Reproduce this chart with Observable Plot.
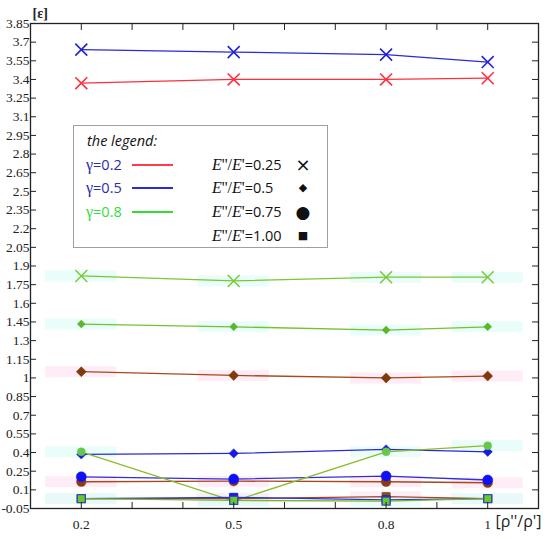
<!DOCTYPE html>
<html><head><meta charset="utf-8">
<script src="https://cdn.jsdelivr.net/npm/d3@7"></script>
<script src="https://cdn.jsdelivr.net/npm/@observablehq/plot@0.6"></script>
<style>
body{margin:0;background:#fff}
#wrap{position:relative;width:550px;height:539px}
#wrap svg g[aria-label$="tick label"]{font-family:"Liberation Serif",serif !important;font-size:13.5px !important}
#wrap svg g[aria-label$="tick label"] text{font-family:"Liberation Serif",serif !important;font-size:13.5px !important;fill:#222}
.leg{position:absolute;left:73px;top:125px;width:253px;height:121px;border:1px solid #a0a0a0;background:#fff;font-family:"Open Sans",sans-serif;font-size:14.5px;line-height:20px}
.leg div{position:absolute;white-space:nowrap}
.leg div.smp{height:2px;width:41px}
.E{font-family:"Liberation Serif",serif;font-size:16px}
.gm{font-family:"Liberation Serif",serif;font-size:16px}
.leg div.sym{font-family:"DejaVu Sans";text-align:center;width:16px}
</style></head><body><div id="wrap"></div>
<script>
// ---- data ----
const ratios = [0.2, 0.5, 0.8, 1.0];
const xTicks = [0.2, 0.3, 0.4, 0.5, 0.6, 0.7, 0.8, 0.9, 1.0];
const xTickLabels = ["0.2", "", "", "0.5", "", "", "0.8", "", "1"];
const yTicks = [-0.05, 0.1, 0.25, 0.4, 0.55, 0.7, 0.85, 1, 1.15, 1.3, 1.45, 1.6, 1.75, 1.9, 2.05, 2.2, 2.35, 2.5, 2.65, 2.8, 2.95, 3.1, 3.25, 3.4, 3.55, 3.7, 3.85];
const yTickLabels = ["-0.05", "0.1", "0.25", "0.4", "0.55", "0.7", "0.85", "1", "1.15", "1.3", "1.45", "1.6", "1.75", "1.9", "2.05", "2.2", "2.35", "2.5", "2.65", "2.8", "2.95", "3.1", "3.25", "3.4", "3.55", "3.7", "3.85"];
const gammaLabels = ["0.2", "0.5", "0.8"];
const ratioLabels = ["0.25", "0.5", "0.75", "1.00"];

const eps_g02_r025 = [3.37, 3.40, 3.40, 3.41];
const eps_g05_r025 = [3.64, 3.62, 3.60, 3.54];
const eps_g08_r025 = [1.82, 1.78, 1.81, 1.81];
const eps_g02_r05  = [1.05, 1.02, 1.00, 1.015];
const eps_g05_r05  = [0.385, 0.393, 0.425, 0.406];
const eps_g08_r05  = [1.433, 1.411, 1.385, 1.411];
const eps_g02_r075 = [0.165, 0.17, 0.165, 0.157];
const eps_g05_r075 = [0.205, 0.187, 0.211, 0.179];
const eps_g08_r075 = [0.406, 0.01, 0.406, 0.455];
const eps_g02_r1   = [0.03, 0.03, 0.045, 0.03];
const eps_g05_r1   = [0.03, 0.04, 0.02, 0.03];
const eps_g08_r1   = [0.03, 0.015, 0.01, 0.03];

// ---- styles (separate from data) ----
const symbolOf = {"0.25": "times", "0.5": "diamond2", "0.75": "circle", "1.00": "square"};
const CY = "#e2fcf9", PK = "#fde6f4";
const series = [
  {g: "0.2", r: "0.25", v: eps_g02_r025, line: "#ff2f40", fill: "none", stroke: "#ff2f40", rad: 5.5, sw: 1.6},
  {g: "0.5", r: "0.25", v: eps_g05_r025, line: "#2a2ad8", fill: "none", stroke: "#2222d8", rad: 5.5, sw: 1.6},
  {g: "0.8", r: "0.25", v: eps_g08_r025, line: "#77c832", fill: "none", stroke: "#77c832", rad: 5.5, sw: 1.4, band: CY},
  {g: "0.2", r: "0.5", v: eps_g02_r05, line: "#a8481e", fill: "#7e3a08", stroke: "#7e3a08", rad: 4.5, sw: 0.5, band: PK},
  {g: "0.5", r: "0.5", v: eps_g05_r05, line: "#2a2ad8", fill: "#1a1ae0", stroke: "#1a1ae0", rad: 4.2, sw: 0.5},
  {g: "0.8", r: "0.5", v: eps_g08_r05, line: "#70c42e", fill: "#5cb52a", stroke: "#5cb52a", rad: 3.6, sw: 0.5, band: CY},
  {g: "0.2", r: "0.75", v: eps_g02_r075, line: "#a8481e", fill: "#8a3c10", stroke: "#8a3c10", rad: 4.8, sw: 0.5, band: PK},
  {g: "0.5", r: "0.75", v: eps_g05_r075, line: "#3030d8", fill: "#1010f8", stroke: "#1010f8", rad: 5, sw: 0.5},
  {g: "0.8", r: "0.75", v: eps_g08_r075, line: "#8cbc2a", fill: "#66c84a", stroke: "#66c84a", rad: 4, sw: 0.5, band: CY},
  {g: "0.2", r: "1.00", v: eps_g02_r1, line: "#a8481e", fill: "#8a5010", stroke: "#8a5010", rad: 4.5, sw: 1, band: PK},
  {g: "0.5", r: "1.00", v: eps_g05_r1, line: "#3030d8", fill: "#1a1ae0", stroke: "#1a1ae0", rad: 4.5, sw: 1},
  {g: "0.8", r: "1.00", v: eps_g08_r1, line: "#7ab82a", fill: "#66c82a", stroke: "#3a48b0", rad: 4.5, sw: 1.3, band: CY}
];

const rowsOf = s => ratios.map((x, i) => ({x, y: s.v[i], g: s.g, r: s.r}));
const xLabelMap = new Map(xTicks.map((t, i) => [t, xTickLabels[i]]));
const yLabelMap = new Map(yTicks.map((t, i) => [t, yTickLabels[i]]));
const axisFont = {fontFamily: "Liberation Serif", fontSize: 13.5, fill: "#222"};

const marks = [];
for (const s of series) if (s.band) {
  marks.push(Plot.ruleY(rowsOf(s), {x1: d => d.x - 0.07, x2: d => d.x + 0.07, y: "y", stroke: s.band, strokeWidth: 11, strokeOpacity: 0.75}));
}
for (const s of series) {
  marks.push(Plot.line(rowsOf(s), {x: "x", y: "y", stroke: s.line, strokeWidth: 1.3}));
}
for (const s of series) {
  marks.push(Plot.dot(rowsOf(s), {x: "x", y: "y", symbol: symbolOf[s.r], r: s.rad, fill: s.fill, stroke: s.stroke, strokeWidth: s.sw}));
}
marks.push(
  Plot.frame({stroke: "#222", strokeWidth: 1.3}),
  Plot.axisX({anchor: "bottom", ticks: xTicks, tickSize: -6, tickPadding: 17, tickFormat: d => xLabelMap.get(d) ?? "", label: null, ...axisFont}),
  Plot.axisX({anchor: "top", ticks: xTicks, tickSize: -6, tickFormat: () => "", label: null}),
  Plot.axisY({anchor: "left", ticks: yTicks, tickSize: -6, tickPadding: 7, tickFormat: d => yLabelMap.get(d) ?? "", label: null, ...axisFont}),
  Plot.axisY({anchor: "right", ticks: yTicks, tickSize: -7, tickFormat: () => "", label: null}),
  Plot.text(["[ε]"], {frameAnchor: "top-left", textAnchor: "start", lineAnchor: "middle", dx: 2, dy: -10, fontWeight: "bold", fontSize: 14, fontFamily: "Liberation Serif", fill: "#222"}),
  Plot.text(["[ρ''/ρ']"], {frameAnchor: "bottom-right", textAnchor: "start", lineAnchor: "middle", dx: -43, dy: 13, fontSize: 16, fontFamily: "Open Sans", fill: "#222"})
);

const chart = Plot.plot({
  width: 550, height: 539,
  marginLeft: 30, marginRight: 12, marginTop: 23, marginBottom: 31,
  x: {domain: [0.1, 1.1], axis: null},
  y: {domain: [-0.05, 3.85], axis: null},
  style: {fontFamily: "Liberation Serif", fontSize: "13px", background: "white", color: "#222"},
  marks
});
const wrap = document.getElementById("wrap");
wrap.appendChild(chart);

// ---- legend (HTML overlay) ----
const legColors = {"0.2": "#2b2bb0", "0.5": "#2b2bb0", "0.8": "#33dd44"};
const legLines = {"0.2": "#ff3a4a", "0.5": "#2a2ae0", "0.8": "#33dd33"};
const legSym = {"0.25": ["×", "18px"], "0.5": ["◆", "11px"], "0.75": ["●", "17px"], "1.00": ["■", "11px"]};
let html = `<div style="left:13px;top:5px;font-style:italic;color:#111">the legend:</div>`;
const rowTop = [29, 52, 76, 100];
gammaLabels.forEach((g, i) => {
  html += `<div style="left:12px;top:${rowTop[i]}px;color:${legColors[g]}"><span class="gm">γ</span>=${g}</div>`;
  html += `<div class="smp" style="left:58px;top:${rowTop[i] + 9}px;background:${legLines[g]}"></div>`;
});
ratioLabels.forEach((r, i) => {
  html += `<div style="left:138px;top:${rowTop[i]}px;color:#111"><span class="E"><i>E</i>''/<i>E</i>'</span>=${r}</div>`;
  html += `<div class="sym" style="left:221px;top:${rowTop[i]}px;font-size:${legSym[r][1]};color:#111">${legSym[r][0]}</div>`;
});
const leg = document.createElement("div");
leg.className = "leg";
leg.innerHTML = html;
wrap.appendChild(leg);
</script>
</body></html>
